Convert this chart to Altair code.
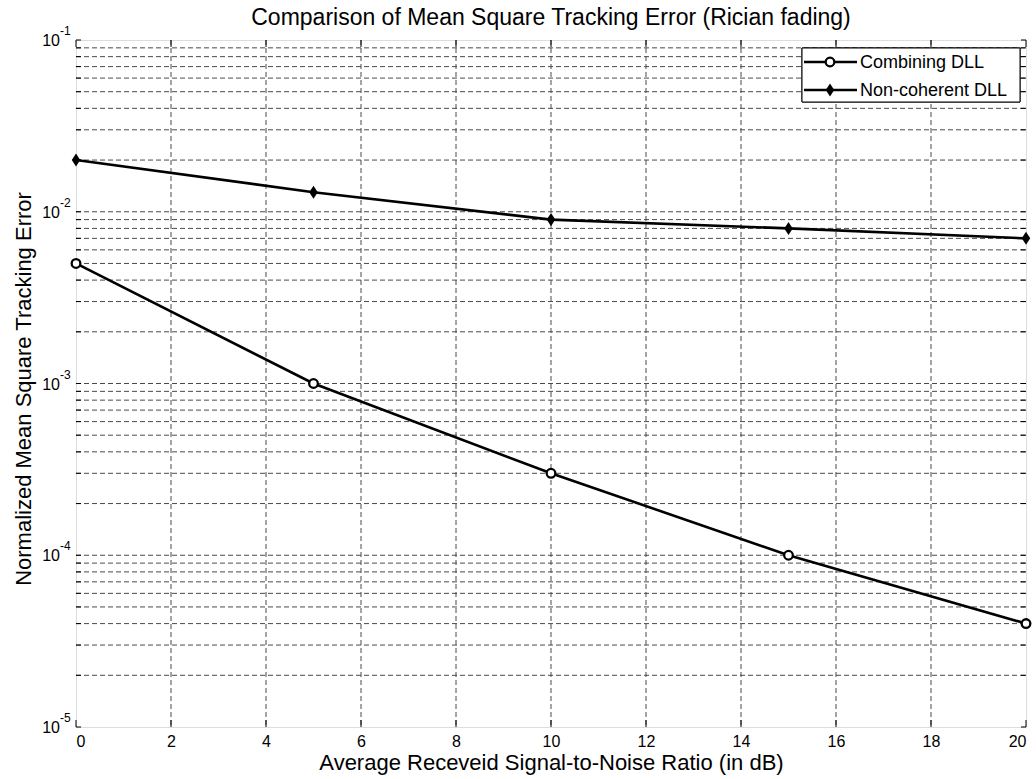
import altair as alt
import pandas as pd

# ---- data ----
snr_db = [0, 5, 10, 15, 20]
combining_dll = [5e-3, 1e-3, 3e-4, 1e-4, 4e-5]
noncoherent_dll = [2e-2, 1.3e-2, 9e-3, 8e-3, 7e-3]
series_names = ["Combining DLL", "Non-coherent DLL"]

x_ticks = [0, 2, 4, 6, 8, 10, 12, 14, 16, 18, 20]
y_decades = [1e-5, 1e-4, 1e-3, 1e-2, 1e-1]
y_exponents = ["-5", "-4", "-3", "-2", "-1"]
y_minor_mult = [1, 2, 3, 4, 5, 6, 7, 8, 9]

W, H = 950, 687
FONT = "Liberation Sans"

xscale = alt.Scale(domain=[0, 20], nice=False, zero=False)
yscale = alt.Scale(type="log", domain=[1e-5, 1e-1], nice=False)

comb_df = pd.DataFrame({"x": snr_db, "y": combining_dll})
nonc_df = pd.DataFrame({"x": snr_db, "y": noncoherent_dll})

# grid values
y_all = []
for d in y_decades[:-1]:
    for m in y_minor_mult:
        y_all.append(round(d * m, 12))
y_grid = [v for v in y_all if v > 1e-5]
x_grid = [v for v in x_ticks if 0 < v < 20]

ygrid_df = pd.DataFrame({"y": y_grid})
xgrid_df = pd.DataFrame({"x": x_grid})
yticks_df = pd.DataFrame({"y": y_all + [1e-1]})
xticks_df = pd.DataFrame({"x": x_ticks})
ylab_df = pd.DataFrame({"y": y_decades, "base": ["10"] * 5, "exp": y_exponents})

grid_color = "#4a4a4a"
dash = [5, 3]

X = alt.X("x:Q", scale=xscale,
          axis=alt.Axis(values=x_ticks, format="d", grid=False, ticks=False, domain=False,
                        labelFontSize=16, labelPadding=6, labelFont=FONT, labelColor="black",
                        title="Average Receveid Signal-to-Noise Ratio (in dB)",
                        titleFontSize=22, titleFont=FONT, titleFontWeight="normal",
                        titleColor="black", titlePadding=3))
Y = alt.Y("y:Q", scale=yscale,
          axis=alt.Axis(labels=False, ticks=False, domain=False, grid=False,
                        title="Normalized Mean Square Tracking Error",
                        titleFontSize=22, titleFont=FONT, titleFontWeight="normal",
                        titleColor="black", titleX=-53, titleY=H / 2 + 5, titleAngle=270,
                        titleAlign="center", titleBaseline="middle"))

axes_layer = alt.Chart(comb_df).mark_point(opacity=0).encode(x=X, y=Y)

ygrid = alt.Chart(ygrid_df).mark_rule(color=grid_color, strokeWidth=1, strokeDash=dash).encode(
    y=Y, x=alt.value(0), x2=alt.value(W))
xgrid = alt.Chart(xgrid_df).mark_rule(color=grid_color, strokeWidth=1, strokeDash=dash).encode(
    x=X, y=alt.value(0), y2=alt.value(H))

ytick_l = alt.Chart(yticks_df).mark_rule(color="black", strokeWidth=1).encode(
    y=Y, x=alt.value(0), x2=alt.value(5))
ytick_r = alt.Chart(yticks_df).mark_rule(color="black", strokeWidth=1).encode(
    y=Y, x=alt.value(W - 5), x2=alt.value(W))
xtick_b = alt.Chart(xticks_df).mark_rule(color="black", strokeWidth=1).encode(
    x=X, y=alt.value(H - 7), y2=alt.value(H))
xtick_t = alt.Chart(xticks_df).mark_rule(color="black", strokeWidth=1).encode(
    x=X, y=alt.value(0), y2=alt.value(7))

ylab_base = alt.Chart(ylab_df).mark_text(align="right", baseline="middle", fontSize=16,
                                         font=FONT, color="black", dy=1).encode(
    y=Y, x=alt.value(-16), text="base:N")
ylab_exp = alt.Chart(ylab_df).mark_text(align="left", baseline="middle", fontSize=12,
                                        font=FONT, color="black", dy=-9).encode(
    y=Y, x=alt.value(-16), text="exp:N")

diamond = "M0,-1L0.65,0L0,1L-0.65,0Z"
comb_line = alt.Chart(comb_df).mark_line(color="black", strokeWidth=2.6).encode(x=X, y=Y)
comb_pts = alt.Chart(comb_df).mark_point(shape="circle", size=75, filled=False, fill="white",
                                         fillOpacity=1, stroke="black", strokeWidth=2.3,
                                         opacity=1).encode(x=X, y=Y)
nonc_line = alt.Chart(nonc_df).mark_line(color="black", strokeWidth=2.6).encode(x=X, y=Y)
nonc_pts = alt.Chart(nonc_df).mark_point(shape=diamond, size=170, filled=True, color="black",
                                         opacity=1).encode(x=X, y=Y)

# ---- legend (manual, pixel placed) ----
leg_df = pd.DataFrame({"label": series_names})
leg_box = alt.Chart(leg_df).mark_rect(fill="white", stroke="black", strokeWidth=1).encode(
    x=alt.value(726), x2=alt.value(944), y=alt.value(8), y2=alt.value(62))
leg_lines = []
leg_text = []
for i, name in enumerate(series_names):
    ry = 22 + 28 * i
    one = pd.DataFrame({"label": [name]})
    leg_lines.append(alt.Chart(one).mark_rule(color="black", strokeWidth=2.6).encode(
        x=alt.value(728), x2=alt.value(781), y=alt.value(ry)))
    if i == 0:
        leg_lines.append(alt.Chart(one).mark_point(shape="circle", size=75, filled=False,
                                                   fill="white", fillOpacity=1, stroke="black",
                                                   strokeWidth=2.3, opacity=1).encode(
            x=alt.value(754), y=alt.value(ry)))
    else:
        leg_lines.append(alt.Chart(one).mark_point(shape=diamond, size=170, filled=True,
                                                   color="black", opacity=1).encode(
            x=alt.value(754), y=alt.value(ry)))
    leg_text.append(alt.Chart(one).mark_text(align="left", baseline="middle", fontSize=18,
                                             font=FONT, color="black").encode(
        x=alt.value(784), y=alt.value(ry + 1), text="label:N"))

chart = alt.layer(
    axes_layer, ygrid, xgrid, ytick_l, ytick_r, xtick_b, xtick_t, ylab_base, ylab_exp,
    nonc_line, comb_line, comb_pts, nonc_pts, leg_box, *leg_lines, *leg_text
).properties(
    width=W, height=H,
    title=alt.TitleParams("Comparison of Mean Square Tracking Error (Rician fading)",
                          fontSize=23, font=FONT, fontWeight="normal", color="black",
                          anchor="middle", offset=-5),
    autosize=alt.AutoSizeParams(type="none"),
    padding={"left": 76, "top": 40, "right": 10, "bottom": 52},
).configure_view(stroke="black", strokeWidth=1.2).configure(background="white")

chart.save("out.html", embed_options={"renderer": "svg", "actions": False})
